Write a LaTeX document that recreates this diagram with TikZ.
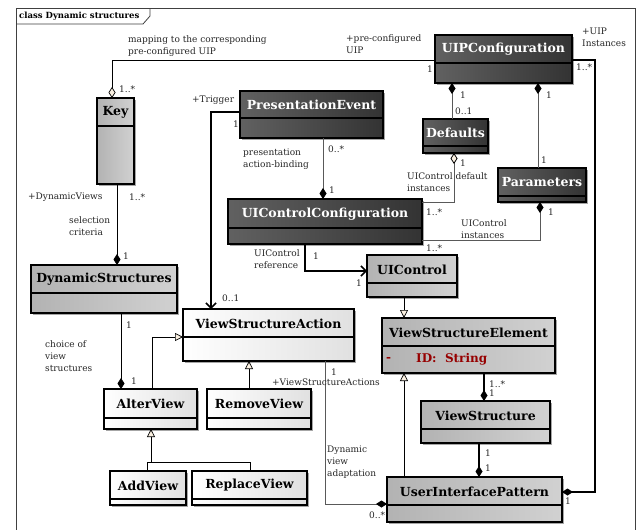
\documentclass[tikz,border=0pt]{standalone}
\usepackage{fontspec}
\setmainfont{DejaVu Serif}
\usetikzlibrary{arrows.meta,shadows,calc}
\definecolor{cream}{RGB}{250,240,225}
\definecolor{attrred}{RGB}{150,0,0}
\newcommand{\umlbox}[8]{%
  \pgfmathsetmacro\bw{#5-#3}\pgfmathsetmacro\bh{#6-#4}%
  \node[#2, minimum width=\bw pt, minimum height=\bh pt, anchor=north west] (#1) at (#3,#4) {};
  \draw[line width=1.1pt] (#3,#7) -- (#5,#7);
  \node[#2txt] (#1-t) at ({(#3+#5)/2},{(#4+#7)/2+0.5}) {#8};
}
\tikzset{
  boxbase/.style={draw=black, line width=1.1pt, inner sep=0pt, outer sep=0pt,
    drop shadow={shadow xshift=2pt,shadow yshift=-2pt,fill=black,opacity=0.35}},
  darkbox/.style={boxbase, left color=black!62, right color=black!80},
  graybox/.style={boxbase, left color=black!30, right color=black!18},
  whitebox/.style={boxbase, left color=white, right color=black!12},
  ttl/.style={font=\fontsize{12.5}{14}\selectfont\bfseries, inner sep=0pt},
  darkboxtxt/.style={ttl, text=white},
  grayboxtxt/.style={ttl, text=black},
  whiteboxtxt/.style={ttl, text=black},
  lbl/.style={anchor=west, inner sep=0pt, align=left, text=black!85,
    font=\fontsize{9}{12}\selectfont},
  conn/.style={draw=black, line width=0.7pt},
  gconn/.style={draw=black!65, line width=0.8pt},
  tconn/.style={draw=black, line width=1.5pt},
  cmp/.tip={Diamond[length=11pt,width=7pt,color=black]},
  agr/.tip={Diamond[length=11pt,width=7pt,color=black,fill=cream]},
  gn/.tip={Triangle[length=8pt,width=8pt,color=black,fill=cream]},
  nv/.tip={Straight Barb[length=5pt,width=10pt]},
}
\begin{document}
\begin{tikzpicture}[x=1pt,y=-1pt]
\useasboundingbox (0,0) rectangle (641,530);
\fill[white] (0,0) rectangle (641,530);
% frame
\draw[black!75, line width=0.8pt] (16,540) -- (16,8) -- (635,8) -- (635,540);
\draw[black!75, line width=0.8pt] (16,24) -- (143,24) -- (150,16) -- (150,8);
\node[anchor=west, inner sep=0pt, font=\fontsize{8.5}{10}\selectfont\bfseries] (frametitle) at (19,16) {class Dynamic structures};

% classes
\umlbox{key}{graybox}{97}{98}{134}{184}{126}{Key}
\umlbox{pe}{darkbox}{240}{91}{383}{138}{118}{PresentationEvent}
\umlbox{uipc}{darkbox}{435}{35}{572}{83}{63}{UIPConfiguration}
\umlbox{defaults}{darkbox}{423}{119}{488}{153}{146}{Defaults}
\umlbox{params}{darkbox}{498}{168}{586}{202}{196}{Parameters}
\umlbox{uicc}{darkbox}{228}{199}{422}{244}{228}{UIControlConfiguration}
\umlbox{uicontrol}{graybox}{367}{255}{457}{297}{283}{UIControl}
\umlbox{ds}{graybox}{31}{265}{177}{313}{293}{DynamicStructures}
\umlbox{vsa}{whitebox}{183}{309}{354}{361}{337}{ViewStructureAction}
\umlbox{vse}{graybox}{382}{318}{555}{373}{346}{ViewStructureElement}
\umlbox{alter}{whitebox}{104}{389}{197}{429}{418}{AlterView}
\umlbox{remove}{whitebox}{207}{389}{311}{429}{418}{RemoveView}
\umlbox{add}{whitebox}{110}{471}{186}{505}{499}{AddView}
\umlbox{replace}{whitebox}{192}{471}{307}{505}{499}{ReplaceView}
\umlbox{vs}{graybox}{421}{401}{550}{443}{429}{ViewStructure}
\umlbox{uip}{graybox}{387}{477}{562}{522}{505}{UserInterfacePattern}
\node[anchor=west, inner sep=0pt, text=attrred, font=\fontsize{12}{14}\selectfont\bfseries] (attrminus) at (386,359) {-};
\node[anchor=west, inner sep=0pt, text=attrred, font=\fontsize{12}{14}\selectfont\bfseries] (attrid) at (416,359) {ID:\ \ String};

% connectors
\draw[conn, {agr}-] (key.north -| 112,0) -- (112,60) -- (uipc.west |- 0,60);
\draw[tconn, -{cmp}] (uipc.east |- 0,60) -- (595,60) -- (595,492) -- (uip.east |- 0,492);
\draw[gconn, {cmp}-] (uipc.south -| 452,0) -- (defaults.north -| 452,0);
\draw[gconn, {cmp}-] (uipc.south -| 538,0) -- (params.north -| 538,0);
\draw[gconn, {agr}-] (defaults.south -| 454,0) -- (454,202) -- (uicc.east |- 0,202);
\draw[gconn, {cmp}-] (params.south -| 540,0) -- (540,240) -- (uicc.east |- 0,240);
\draw[gconn, -{cmp}] (pe.south -| 323,0) -- (uicc.north -| 323,0);
\draw[tconn, -{nv}] (pe.west |- 0,112) -- (211,112) -- (vsa.north -| 211,0);
\draw[tconn, -{nv}] (uicc.south -| 305,0) -- (305,271) -- (uicontrol.west |- 0,271);
\draw[conn, -{gn}] (uicontrol.south -| 404,0) -- (vse.north -| 404,0);
\draw[conn, -{cmp}] (key.south -| 117,0) -- (ds.north -| 117,0);
\draw[conn, -{cmp}] (ds.south -| 121,0) -- (alter.north -| 121,0);
\draw[conn, -{gn}] (alter.north -| 152,0) -- (152,337) -- (vsa.west |- 0,337);
\draw[conn, -{gn}] (remove.north -| 249,0) -- (vsa.south -| 249,0);
\coordinate (genj) at (151,462);
\draw[conn] (add.north -| 147,0) -- (147,462) -- (250,462) -- (replace.north -| 250,0);
\draw[conn, -{gn}] (genj) -- (alter.south -| 151,0);
\draw[gconn, -{cmp}] (vsa.south -| 325,0) -- (325,504) -- (uip.west |- 0,504);
\draw[conn, -{gn}] (uip.north -| 404,0) -- (vse.south -| 404,0);
\draw[tconn, -{cmp}] (vse.south -| 484,0) -- (vs.north -| 484,0);
\draw[tconn, -{cmp}] (vs.south -| 479,0) -- (uip.north -| 479,0);

% labels
\node[lbl] (l1) at (128,46) {mapping to the corresponding\\pre-configured UIP};
\node[lbl] (l2) at (119,89) {1..*};
\node[lbl] (l3) at (346,44) {+pre-configured\\UIP};
\node[lbl] (l4) at (427,69) {1};
\node[lbl] (l5) at (582,37) {+UIP\\Instances};
\node[lbl] (l6) at (576,67) {1..*};
\node[lbl] (l7) at (460,95) {1};
\node[lbl] (l8) at (455,111) {0..1};
\node[lbl] (l9) at (546,95) {1};
\node[lbl] (l10) at (541,160) {1};
\node[lbl] (l11) at (460,163) {1};
\node[lbl] (l12) at (407,182) {UIControl default\\instances};
\node[lbl] (l13) at (426,212) {1..*};
\node[lbl] (l14) at (548,212) {1};
\node[lbl] (l15) at (461,229) {UIControl\\instances};
\node[lbl] (l16) at (426,248) {1..*};
\node[lbl] (l17) at (192,100) {+Trigger};
\node[lbl] (l18) at (233,124) {1};
\node[lbl] (l19) at (243,159) {presentation\\action-binding};
\node[lbl] (l20) at (328,149) {0..*};
\node[lbl] (l21) at (329,190) {1};
\node[lbl] (l22) at (254,259) {UIControl\\reference};
\node[lbl] (l23) at (313,256) {1};
\node[lbl] (l24) at (356,283) {1};
\node[lbl] (l25) at (222,298) {0..1};
\node[lbl] (l26) at (28,197) {+DynamicViews};
\node[lbl] (l27) at (129,197) {1..*};
\node[lbl] (l28) at (69,226) {selection\\criteria};
\node[lbl] (l29) at (123,256) {1};
\node[lbl] (l30) at (126,325) {1};
\node[lbl] (l31) at (45,356) {choice of\\view\\structures};
\node[lbl] (l32) at (131,381) {1};
\node[lbl] (l33) at (331,372) {1};
\node[lbl] (l34) at (272,382) {+ViewStructureActions};
\node[lbl] (l35) at (327,462) {Dynamic\\view\\adaptation};
\node[lbl] (l36) at (369,515) {0..*};
\node[lbl] (l37) at (565,501) {1};
\node[lbl] (l38) at (489,384) {1..*};
\node[lbl] (l39) at (489,393) {1};
\node[lbl] (l40) at (485,453) {1};
\node[lbl] (l41) at (485,468) {1};
\end{tikzpicture}
\end{document}
